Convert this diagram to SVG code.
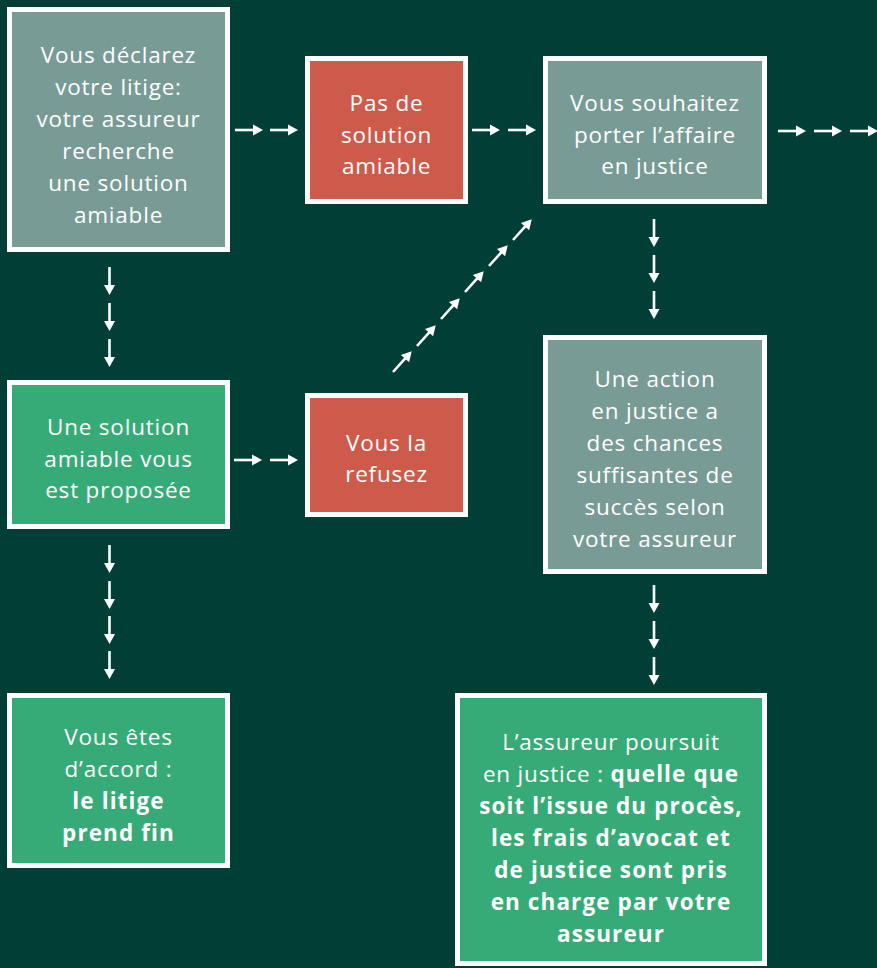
<svg xmlns="http://www.w3.org/2000/svg" width="877" height="968" viewBox="0 0 877 968">
<style>
.box{stroke:#ffffff;stroke-width:5}
.grey{fill:#789b95}
.red{fill:#cd5b4b}
.green{fill:#36ab77}
text{font-family:"Open Sans","Noto Sans",sans-serif;font-size:22.5px;fill:#ffffff;text-anchor:middle;letter-spacing:0.8px}
.b{font-weight:700;letter-spacing:1.1px}
</style>
<defs>
<g id="arr">
<line x1="0" y1="0" x2="20" y2="0" stroke="#ffffff" stroke-width="2.6"/>
<polygon points="18,-5.5 28,0 18,5.5" fill="#ffffff"/>
</g>
</defs>
<rect x="0" y="0" width="877" height="968" fill="#013f36"/>

<g id="connectors">
<use href="#arr" transform="translate(235,130)"/>
<use href="#arr" transform="translate(270,130)"/>
<use href="#arr" transform="translate(472,130)"/>
<use href="#arr" transform="translate(508,130)"/>
<use href="#arr" transform="translate(778,131)"/>
<use href="#arr" transform="translate(814,131)"/>
<use href="#arr" transform="translate(850,131)"/>
<use href="#arr" transform="translate(234,460)"/>
<use href="#arr" transform="translate(270,460)"/>
<use href="#arr" transform="translate(109.5,267) rotate(90)"/>
<use href="#arr" transform="translate(109.5,303) rotate(90)"/>
<use href="#arr" transform="translate(109.5,339) rotate(90)"/>
<use href="#arr" transform="translate(109.5,545) rotate(90)"/>
<use href="#arr" transform="translate(109.5,581) rotate(90)"/>
<use href="#arr" transform="translate(109.5,616) rotate(90)"/>
<use href="#arr" transform="translate(109.5,651) rotate(90)"/>
<use href="#arr" transform="translate(654,219) rotate(90)"/>
<use href="#arr" transform="translate(654,255) rotate(90)"/>
<use href="#arr" transform="translate(654,291) rotate(90)"/>
<use href="#arr" transform="translate(654,585) rotate(90)"/>
<use href="#arr" transform="translate(654,621) rotate(90)"/>
<use href="#arr" transform="translate(654,657) rotate(90)"/>
<use href="#arr" transform="translate(393,372) rotate(-48)"/>
<use href="#arr" transform="translate(417,346) rotate(-48)"/>
<use href="#arr" transform="translate(441,319) rotate(-48)"/>
<use href="#arr" transform="translate(465,292) rotate(-48)"/>
<use href="#arr" transform="translate(489,266) rotate(-48)"/>
<use href="#arr" transform="translate(513,240) rotate(-48)"/>
</g>

<g id="n1">
<rect class="box grey" x="9.5" y="9.5" width="218" height="240"/>
<text x="118.5" y="63">Vous déclarez</text>
<text x="118.5" y="95">votre litige:</text>
<text x="118.5" y="127">votre assureur</text>
<text x="118.5" y="159">recherche</text>
<text x="118.5" y="191">une solution</text>
<text x="118.5" y="223">amiable</text>
</g>

<g id="n2">
<rect class="box red" x="307.5" y="58.5" width="158" height="143"/>
<text x="386.5" y="111">Pas de</text>
<text x="386.5" y="143">solution</text>
<text x="386.5" y="174">amiable</text>
</g>

<g id="n3">
<rect class="box grey" x="545.5" y="58.5" width="219" height="143"/>
<text x="655" y="111">Vous souhaitez</text>
<text x="655" y="143">porter l’affaire</text>
<text x="655" y="174">en justice</text>
</g>

<g id="n4">
<rect class="box grey" x="545.5" y="337.5" width="219" height="234"/>
<text x="655" y="387">Une action</text>
<text x="655" y="419">en justice a</text>
<text x="655" y="451">des chances</text>
<text x="655" y="483">suffisantes de</text>
<text x="655" y="515">succès selon</text>
<text x="655" y="547">votre assureur</text>
</g>

<g id="n5">
<rect class="box green" x="9.5" y="382.5" width="218" height="144"/>
<text x="118.5" y="435">Une solution</text>
<text x="118.5" y="467">amiable vous</text>
<text x="118.5" y="498">est proposée</text>
</g>

<g id="n6">
<rect class="box red" x="307.5" y="395.5" width="158" height="119"/>
<text x="386.5" y="451">Vous la</text>
<text x="386.5" y="482">refusez</text>
</g>

<g id="n7">
<rect class="box green" x="9.5" y="695.5" width="218" height="170"/>
<text x="118.5" y="745">Vous êtes</text>
<text x="118.5" y="777">d’accord :</text>
<text class="b" x="118.5" y="809">le litige</text>
<text class="b" x="118.5" y="841">prend fin</text>
</g>

<g id="n8">
<rect class="box green" x="457.5" y="695.5" width="307" height="268"/>
<text x="611" y="750">L’assureur poursuit</text>
<text x="611" y="782">en justice : <tspan class="b">quelle que</tspan></text>
<text class="b" x="611" y="814">soit l’issue du procès,</text>
<text class="b" x="611" y="846">les frais d’avocat et</text>
<text class="b" x="611" y="878">de justice sont pris</text>
<text class="b" x="611" y="910">en charge par votre</text>
<text class="b" x="611" y="942">assureur</text>
</g>
</svg>
